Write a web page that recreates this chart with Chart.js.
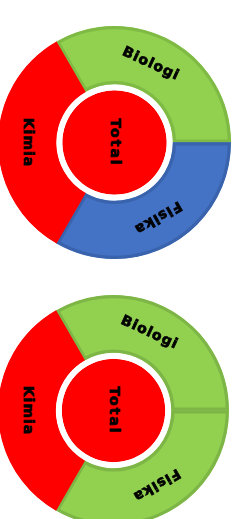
<!DOCTYPE html>
<html>
<head>
<meta charset="utf-8">
<script src="https://cdn.jsdelivr.net/npm/chart.js@4"></script>
<style>
  html, body { margin: 0; padding: 0; background: #fff; overflow: hidden; }
  body { width: 240px; height: 519px; position: relative; }
  .box { position: absolute; }
  #box1 { left: -2px; top: 26px; width: 233px; height: 233px; }
  #box2 { left: -2px; top: 295px; width: 231px; height: 231px; }
</style>
</head>
<body>
<div class="box" id="box1"><canvas id="chart1"></canvas></div>
<div class="box" id="box2"><canvas id="chart2"></canvas></div>
<script>
// subjects around the ring, each an equal share
var subjects = ["Biologi", "Fisika", "Kimia"];
var shares = [1, 1, 1];
var totalLabel = "Total";
var totalValue = [3];

var topColors = ["#92d050", "#4472c4", "#ff0000"];
var topBorders = ["#7fbb44", "#3a63ad", "#ff0000"];
var bottomColors = ["#92d050", "#92d050", "#ff0000"];
var bottomBorders = ["#7db646", "#7db646", "#ff0000"];

// writes the slice names along the ring and the word in the middle
const ringText = {
  id: "ringText",
  afterDatasetsDraw(chart) {
    const ctx = chart.ctx;
    const ring = chart.getDatasetMeta(0).data;
    ctx.save();
    ctx.fillStyle = "#000";
    ctx.strokeStyle = "#000";
    ctx.lineWidth = 0.7;
    ctx.font = "bold 14px 'DejaVu Sans'";
    ctx.textAlign = "center";
    ctx.textBaseline = "middle";
    ring.forEach(function (arc, i) {
      const p = arc.getProps(["x", "y", "startAngle", "endAngle", "innerRadius", "outerRadius"]);
      const mid = (p.startAngle + p.endAngle) / 2 + (i == 0 ? -0.09 : 0);
      const r = (p.innerRadius + p.outerRadius) / 2 - 1;
      const x = p.x + Math.cos(mid) * r;
      const y = p.y + Math.sin(mid) * r;
      // angle measured clockwise from the top
      let rot = mid + Math.PI / 2;
      if (rot > Math.PI) rot -= Math.PI;
      ctx.save();
      ctx.translate(x, y);
      ctx.rotate(rot);
      ctx.letterSpacing = "1px";
      ctx.fillText(subjects[i], 0, 0);
      ctx.strokeText(subjects[i], 0, 0);
      ctx.restore();
    });
    const c = chart.getDatasetMeta(2).data[0];
    ctx.save();
    ctx.translate(c.x, c.y);
    ctx.rotate(Math.PI / 2);
    ctx.letterSpacing = "2px";
    ctx.fillText(totalLabel, 0, 0);
    ctx.strokeText(totalLabel, 0, 0);
    ctx.restore();
    ctx.restore();
  }
};

function makeChart(id, colors, borders) {
  return new Chart(id, {
    type: "doughnut",
    data: {
      labels: subjects,
      datasets: [{
        data: shares,
        backgroundColor: colors,
        borderColor: borders,
        borderWidth: 3,
        borderAlign: "inner",
        weight: 58
      }, {
        data: [1],
        backgroundColor: "#ffffff",
        borderWidth: 0,
        weight: 6
      }, {
        data: totalValue,
        backgroundColor: "#ff0000",
        borderWidth: 0,
        weight: 52
      }]
    },
    options: {
      responsive: true,
      maintainAspectRatio: false,
      animation: false,
      cutout: 0,
      rotation: -30,
      events: [],
      plugins: {
        legend: { display: false },
        tooltip: { enabled: false }
      }
    },
    plugins: [ringText]
  });
}

makeChart("chart1", topColors, topBorders);
makeChart("chart2", bottomColors, bottomBorders);
</script>
</body>
</html>
